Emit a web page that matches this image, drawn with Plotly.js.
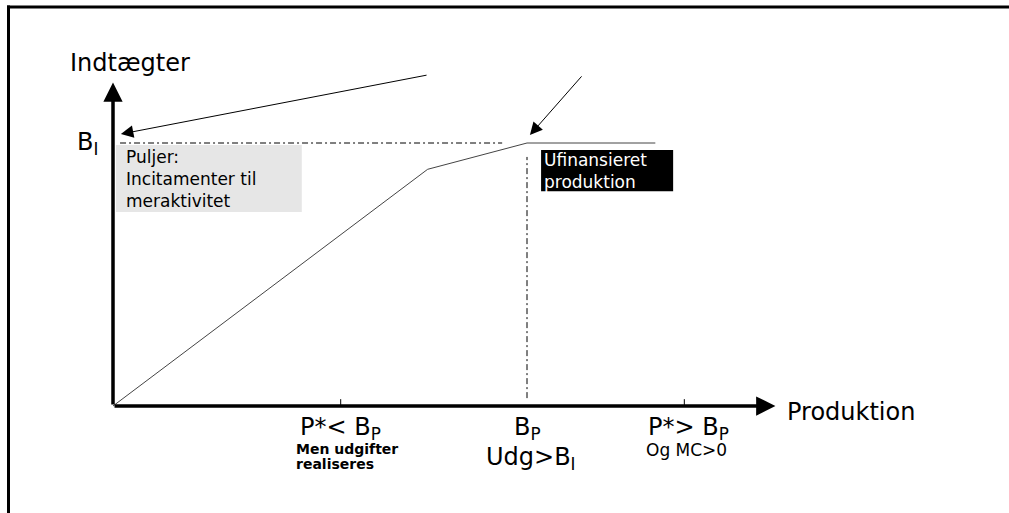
<!DOCTYPE html>
<html>
<head>
<meta charset="utf-8">
<script src="https://cdn.plot.ly/plotly-3.0.1.min.js"></script>
<style>
  html, body { margin: 0; padding: 0; background: #ffffff; }
  #chart { width: 1009px; height: 513px; }
</style>
</head>
<body>
<div id="chart"></div>
<script>
// ---- Data (conceptual units: B_P = 100 on production, B_I = 100 on revenue) ----
const productionX = [0, 76, 100, 131];
const revenueY = [0, 90, 100, 100];
const budgetILevel = 100;
const budgetIExtent = [1.7, 94];
const budgetPLevel = 100;
const budgetPExtent = [3, 94.7];
const tickValues = [55, 100, 138];
const tickLabels = ['P*< B<sub>P</sub>', 'B<sub>P</sub>', 'P*> B<sub>P</sub>'];
const axisTitleX = 'Produktion';
const axisTitleY = 'Indtægter';
const levelLabel = 'B<sub>I</sub>';
const poolLines = ['Puljer:', 'Incitamenter til', 'meraktivitet'];
const unfundedLines = ['Ufinansieret', 'produktion'];
const poolBoxX = [0.7, 45.6];
const poolBoxY = [73.8, 99.2];
const unfundedBoxX = [103.4, 135.3];
const unfundedBoxY = [81.7, 97.3];
const arrowPool = {tip: [1.9, 103.4], tail: [76.1, 125.9]};
const arrowUnfunded = {tip: [100.7, 103], tail: [113.5, 125.9]};
const axisEnds = {x: 160, y: 123};

// ---- Layout helpers ----
const FONT = 'DejaVu Sans, Liberation Sans, Arial, sans-serif';
const bigFont = {family: FONT, size: 24, color: '#000'};
const boxFont = {family: FONT, size: 17, color: '#000'};

const traces = [
  {x: productionX, y: revenueY, type: 'scatter', mode: 'lines',
   line: {color: '#444444', width: 1}, hoverinfo: 'skip'},
  {x: budgetIExtent, y: [budgetILevel, budgetILevel], type: 'scatter', mode: 'lines',
   line: {color: '#000', width: 1, dash: '6px,3px,2px,3px'}, hoverinfo: 'skip'},
  {x: [budgetPLevel, budgetPLevel], y: budgetPExtent, type: 'scatter', mode: 'lines',
   line: {color: '#000', width: 1, dash: '6px,3px,2px,3px'}, hoverinfo: 'skip'}
];

function arrow(tip, tail, width, head, size) {
  return {x: tip[0], y: tip[1], ax: tail[0], ay: tail[1], xref: 'x', yref: 'y',
          axref: 'x', ayref: 'y', text: '', showarrow: true, arrowhead: head,
          arrowsize: size, arrowwidth: width, arrowcolor: '#000', standoff: 0, startstandoff: 0};
}
function label(x, y, text, font, xanchor, yanchor) {
  return {x: x, y: y, xref: 'x', yref: 'y', text: text, showarrow: false, borderpad: 0,
          font: font, xanchor: xanchor || 'left', yanchor: yanchor || 'middle', align: 'left'};
}

const annotations = [
  arrow([0, axisEnds.y], [0, 0], 3.5, 2, 1.1),
  arrow([axisEnds.x, 0], [0, 0], 3.5, 2, 1.1),
  arrow(arrowPool.tip, arrowPool.tail, 1, 2, 2.5),
  arrow(arrowUnfunded.tip, arrowUnfunded.tail, 1, 2, 2.5),
  label(-10.6, 130.4, axisTitleY, bigFont),
  label(-8.9, 100.0, levelLabel, bigFont),
  label(162.6, -2.3, axisTitleX, bigFont),
  label(tickValues[0], -8.4, tickLabels[0], bigFont, 'center'),
  label(tickValues[1], -8.4, tickLabels[1], bigFont, 'center'),
  label(tickValues[2] + 1, -8.4, tickLabels[2], bigFont, 'center'),
  label(44, -16.5, 'Men udgifter', {family: FONT, size: 14, color: '#000', weight: 'bold'}),
  label(44, -22.0, 'realiseres', {family: FONT, size: 14, color: '#000', weight: 'bold'}),
  label(tickValues[1] + 1, -20.0, 'Udg>B<sub>I</sub>', bigFont, 'center'),
  label(128.6, -16.7, 'Og MC>0', {family: FONT, size: 17, color: '#000'}),
  label(2.8, 86.4, poolLines.join('<br>'), boxFont),
  label(103.8, 89.2, unfundedLines.join('<br>'), {family: FONT, size: 17, color: '#fff'})
];

const shapes = [
  {type: 'rect', xref: 'x', yref: 'y', x0: poolBoxX[0], x1: poolBoxX[1], y0: poolBoxY[0], y1: poolBoxY[1],
   fillcolor: '#e6e6e6', line: {width: 0}, layer: 'below'},
  {type: 'rect', xref: 'x', yref: 'y', x0: unfundedBoxX[0], x1: unfundedBoxX[1], y0: unfundedBoxY[0], y1: unfundedBoxY[1],
   fillcolor: '#000000', line: {width: 0}, layer: 'below'},
  {type: 'line', xref: 'x', yref: 'y', x0: tickValues[0], x1: tickValues[0], y0: 0, y1: 2.6, line: {color: '#000', width: 1}},
  {type: 'line', xref: 'x', yref: 'y', x0: tickValues[2], x1: tickValues[2], y0: 0, y1: 2.6, line: {color: '#000', width: 1}},
  // frame
  {type: 'line', xref: 'paper', yref: 'paper', x0: 8.5/1009, x1: 8.5/1009, y0: 0, y1: 1 - 5.5/513, line: {color: '#000', width: 3}},
  {type: 'line', xref: 'paper', yref: 'paper', x0: 7/1009, x1: 1, y0: 1 - 7/513, y1: 1 - 7/513, line: {color: '#000', width: 3}}
];

const layout = {
  width: 1009, height: 513,
  margin: {l: 0, r: 0, t: 0, b: 0, pad: 0},
  paper_bgcolor: '#ffffff', plot_bgcolor: '#ffffff',
  showlegend: false,
  xaxis: {range: [-113/4.14, (1009-113)/4.14], visible: false, fixedrange: true},
  yaxis: {range: [-(513-406)/2.63, 406/2.63], visible: false, fixedrange: true},
  annotations: annotations,
  shapes: shapes
};

Plotly.newPlot('chart', traces, layout, {staticPlot: true, displayModeBar: false});
</script>
</body>
</html>
